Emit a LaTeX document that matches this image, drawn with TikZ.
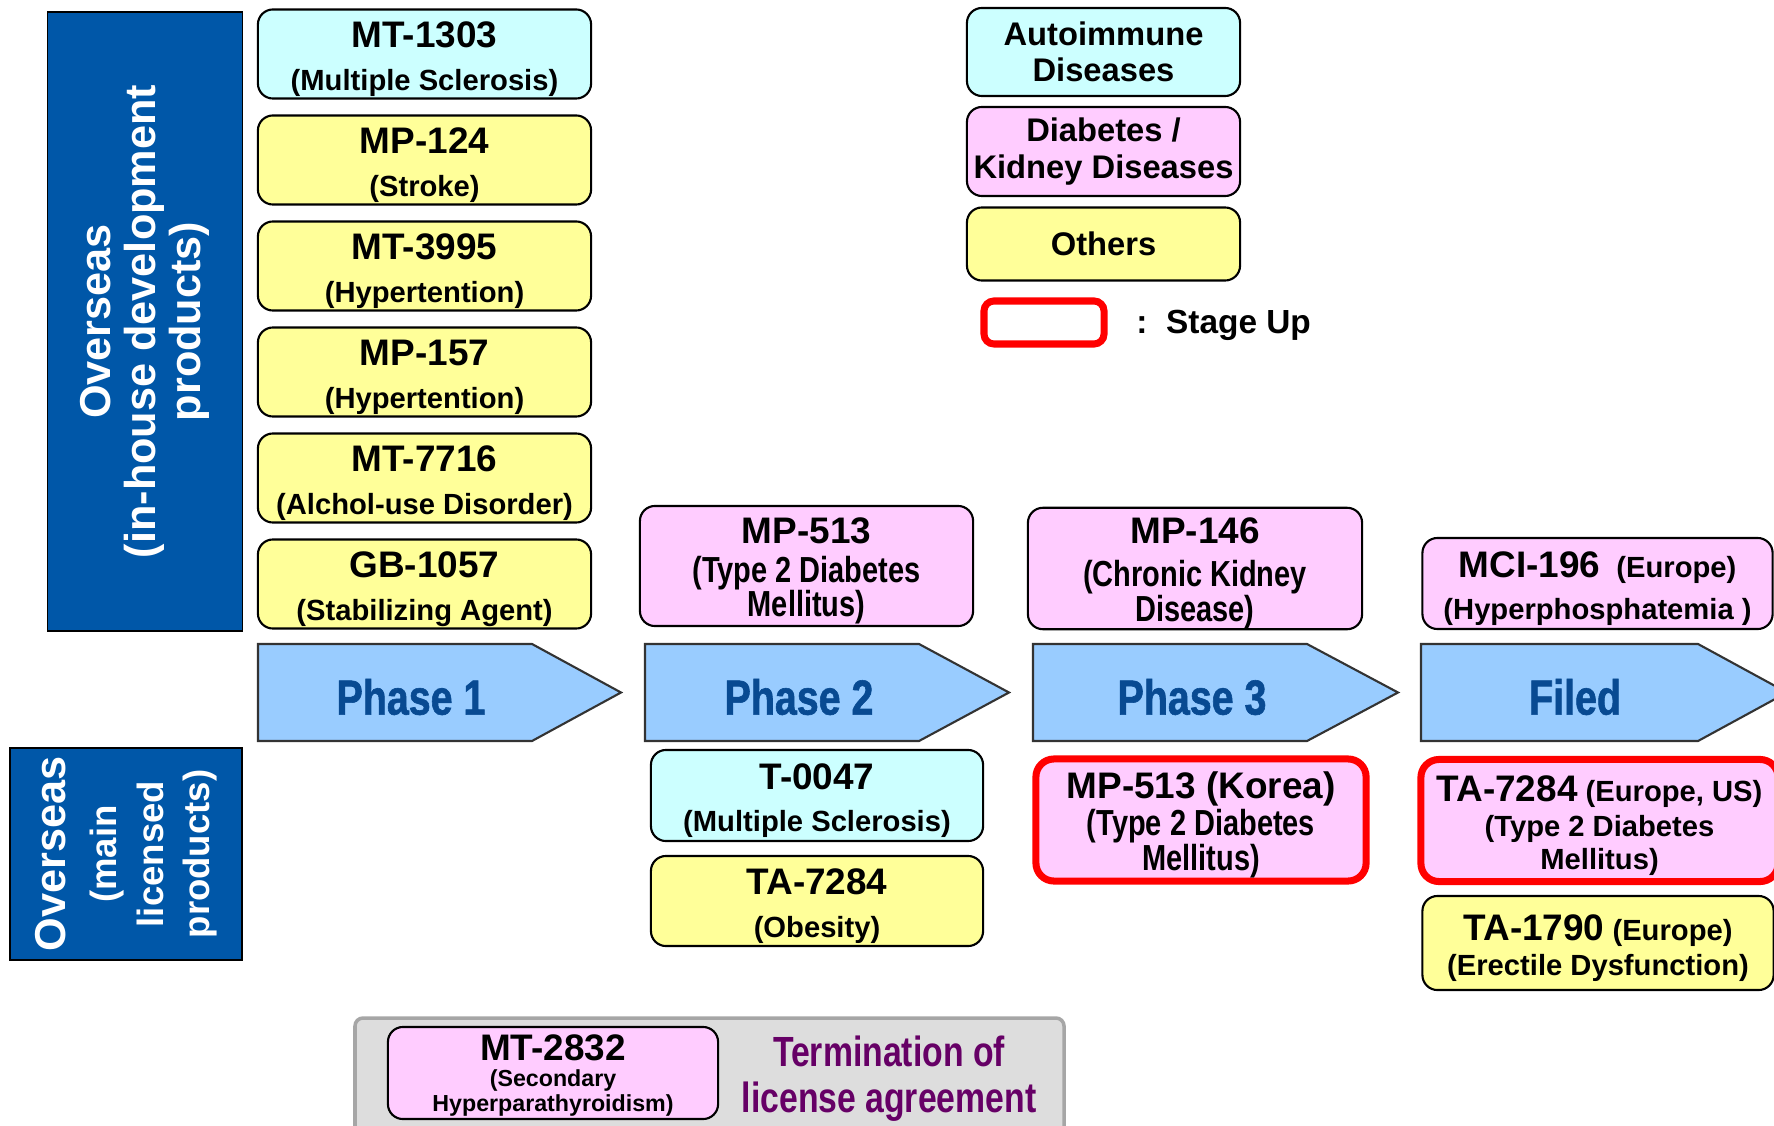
\documentclass[tikz,border=0pt]{standalone}
\usepackage{fontspec}
\setmainfont{Liberation Sans}
\newfontfamily\narrowfont{Liberation Sans}[FakeStretch=0.8]
\newfontfamily\phasefont{Liberation Sans}[FakeStretch=0.8, FakeBold=1.2]
\definecolor{autocol}{HTML}{CCFFFF}
\definecolor{kidcol}{HTML}{FFCCFF}
\definecolor{othcol}{HTML}{FFFF99}
\definecolor{phasecol}{HTML}{99CCFF}
\definecolor{headcol}{HTML}{0057A8}
\definecolor{phasetext}{HTML}{084A92}
\definecolor{termcol}{HTML}{660066}
\definecolor{greybg}{HTML}{DDDDDD}
\definecolor{greyline}{HTML}{A6A6A6}
\newcommand{\pname}[1]{{\rmfamily\bfseries\fontsize{10.5}{12}\selectfont\rule{0pt}{10.3pt}#1}}

\begin{document}
\begin{tikzpicture}[x=0.01cm, y=-0.01cm]
  \tikzset{box/.style={draw, rounded corners=0.15cm, line width=0.6pt, align=center, inner sep=0pt,
      minimum width=3.33cm, minimum height=0.89cm, font=\bfseries\fontsize{8.3}{12}\selectfont}}
  \tikzset{autoimm/.style={box, fill=autocol}}
  \tikzset{kidney/.style={box, fill=kidcol}}
  \tikzset{others/.style={box, fill=othcol}}
  \tikzset{narrow/.style={font=\narrowfont\bfseries\fontsize{10.3}{9.9}\selectfont}}
  \tikzset{legend/.style={minimum width=2.73cm, font=\bfseries\fontsize{9.3}{10.3}\selectfont}}
  \tikzset{stageup/.style={draw=red, line width=2pt}}
  \tikzset{header/.style={draw, fill=headcol, text=white, rotate=90, align=center, inner sep=0pt}}
  \tikzset{phase/.style={draw=black!80, fill=phasecol, line width=0.6pt}}
  \tikzset{phasetxt/.style={text=phasetext, font=\phasefont\bfseries\fontsize{14}{16}\selectfont}}

  \clip (0,0) rectangle (1774,1125);

  % headers on the left
  \node[header, minimum width=6.19cm, minimum height=1.945cm, font=\bfseries\fontsize{12.3}{12.8}\selectfont]
    (inhouse) at (145,321.5) {Overseas\\(in-house development\\products)};
  \node[header, minimum width=2.12cm, minimum height=2.32cm, font=\bfseries\fontsize{10.4}{13.2}\selectfont]
    (licensed) at (126,854) {{\fontsize{12.3}{14}\selectfont Overseas}\\[1.5pt](main\\licensed\\products)};

  % in-house products, phase 1
  \node[autoimm] (mt1303) at (424.5,54) {\pname{MT-1303}\\(Multiple Sclerosis)};
  \node[others] (mp124) at (424.5,160) {\pname{MP-124}\\(Stroke)};
  \node[others] (mt3995) at (424.5,266) {\pname{MT-3995}\\(Hypertention)};
  \node[others] (mp157) at (424.5,372) {\pname{MP-157}\\(Hypertention)};
  \node[others] (mt7716) at (424.5,478) {\pname{MT-7716}\\(Alchol-use Disorder)};
  \node[others] (gb1057) at (424.5,584) {\pname{GB-1057}\\(Stabilizing Agent)};

  % in-house products, later phases
  \node[kidney, narrow, minimum height=1.2cm] (mp513) at (806.5,566)
    {\pname{MP-513}\\[1pt](Type 2 Diabetes\\Mellitus)};
  \node[kidney, narrow, minimum width=3.34cm, minimum height=1.21cm] (mp146) at (1195,568.5)
    {\pname{MP-146}\\[2.3pt](Chronic Kidney\\Disease)};
  \node[kidney, minimum width=3.5cm, minimum height=0.91cm] (mci196) at (1597.5,583.5)
    {\pname{MCI-196}\ \ (Europe)\\(Hyperphosphatemia )};

  % phase arrows
  \draw[phase] (258,644) -- ++(274,0) -- ++(89,48.5) -- ++(-89,48.5) -- ++(-274,0) -- cycle;
  \draw[phase] (645,644) -- ++(274,0) -- ++(90,48.5) -- ++(-90,48.5) -- ++(-274,0) -- cycle;
  \draw[phase] (1033,644) -- ++(274,0) -- ++(91,48.5) -- ++(-91,48.5) -- ++(-274,0) -- cycle;
  \draw[phase] (1421,644) -- ++(277,0) -- ++(89,48.5) -- ++(-89,48.5) -- ++(-277,0) -- cycle;
  \node[phasetxt] (ph1) at (411,697) {Phase 1};
  \node[phasetxt] (ph2) at (799,697) {Phase 2};
  \node[phasetxt] (ph3) at (1192,697) {Phase 3};
  \node[phasetxt] (filed) at (1575,697) {Filed};

  % licensed products
  \node[autoimm, minimum width=3.32cm, minimum height=0.91cm] (t0047) at (817,795.5)
    {\pname{T-0047}\\(Multiple Sclerosis)};
  \node[others, minimum width=3.32cm, minimum height=0.9cm] (ta7284) at (817,901)
    {\pname{TA-7284}\\(Obesity)};
  \node[kidney, stageup, narrow, minimum width=3.3cm, minimum height=1.22cm, rounded corners=0.18cm]
    (mp513kr) at (1201,820) {\pname{MP-513 (Korea)}\\[0.8pt](Type 2 Diabetes\\Mellitus)};
  \node[kidney, stageup, minimum width=3.57cm, minimum height=1.22cm, rounded corners=0.18cm]
    (ta7284eu) at (1599.5,820.5) {\pname{TA-7284} (Europe, US)\\[-2pt](Type 2 Diabetes\\[-2.5pt]Mellitus)};
  \node[others, minimum width=3.51cm, minimum height=0.94cm] (ta1790) at (1598,943)
    {\pname{TA-1790} (Europe)\\[-2pt](Erectile Dysfunction)};

  % termination
  \draw[draw=greyline, fill=greybg, line width=1pt, rounded corners=0.08cm] (355,1018) rectangle (1064,1145);
  \node[kidney, minimum width=3.3cm, minimum height=0.92cm, font=\bfseries\fontsize{6.6}{7.1}\selectfont]
    (mt2832) at (553,1073) {{\fontsize{10.5}{12}\selectfont\rule{0pt}{8.8pt}MT-2832}\\[0.3pt](Secondary\\Hyperparathyroidism)};
  \node[text=termcol, align=center, font=\narrowfont\bfseries\fontsize{12}{13}\selectfont]
    (term) at (889,1079) {Termination of\\license agreement};

  % legend
  \node[autoimm, legend, minimum height=0.88cm] (legauto) at (1103.5,52) {Autoimmune\\Diseases};
  \node[kidney, legend, minimum height=0.89cm] (legkid) at (1103.5,151.5) {Diabetes /\\Kidney Diseases};
  \node[others, legend, minimum height=0.73cm] (legoth) at (1103.5,244) {Others};
  \node[stageup, rounded corners=0.1cm, minimum width=1.2cm, minimum height=0.43cm] (legup) at (1044,322.5) {};
  \node[anchor=west, font=\bfseries\fontsize{9.5}{12}\selectfont] (legtxt) at (1124,325) {:\ \ Stage Up};
\end{tikzpicture}
\end{document}
